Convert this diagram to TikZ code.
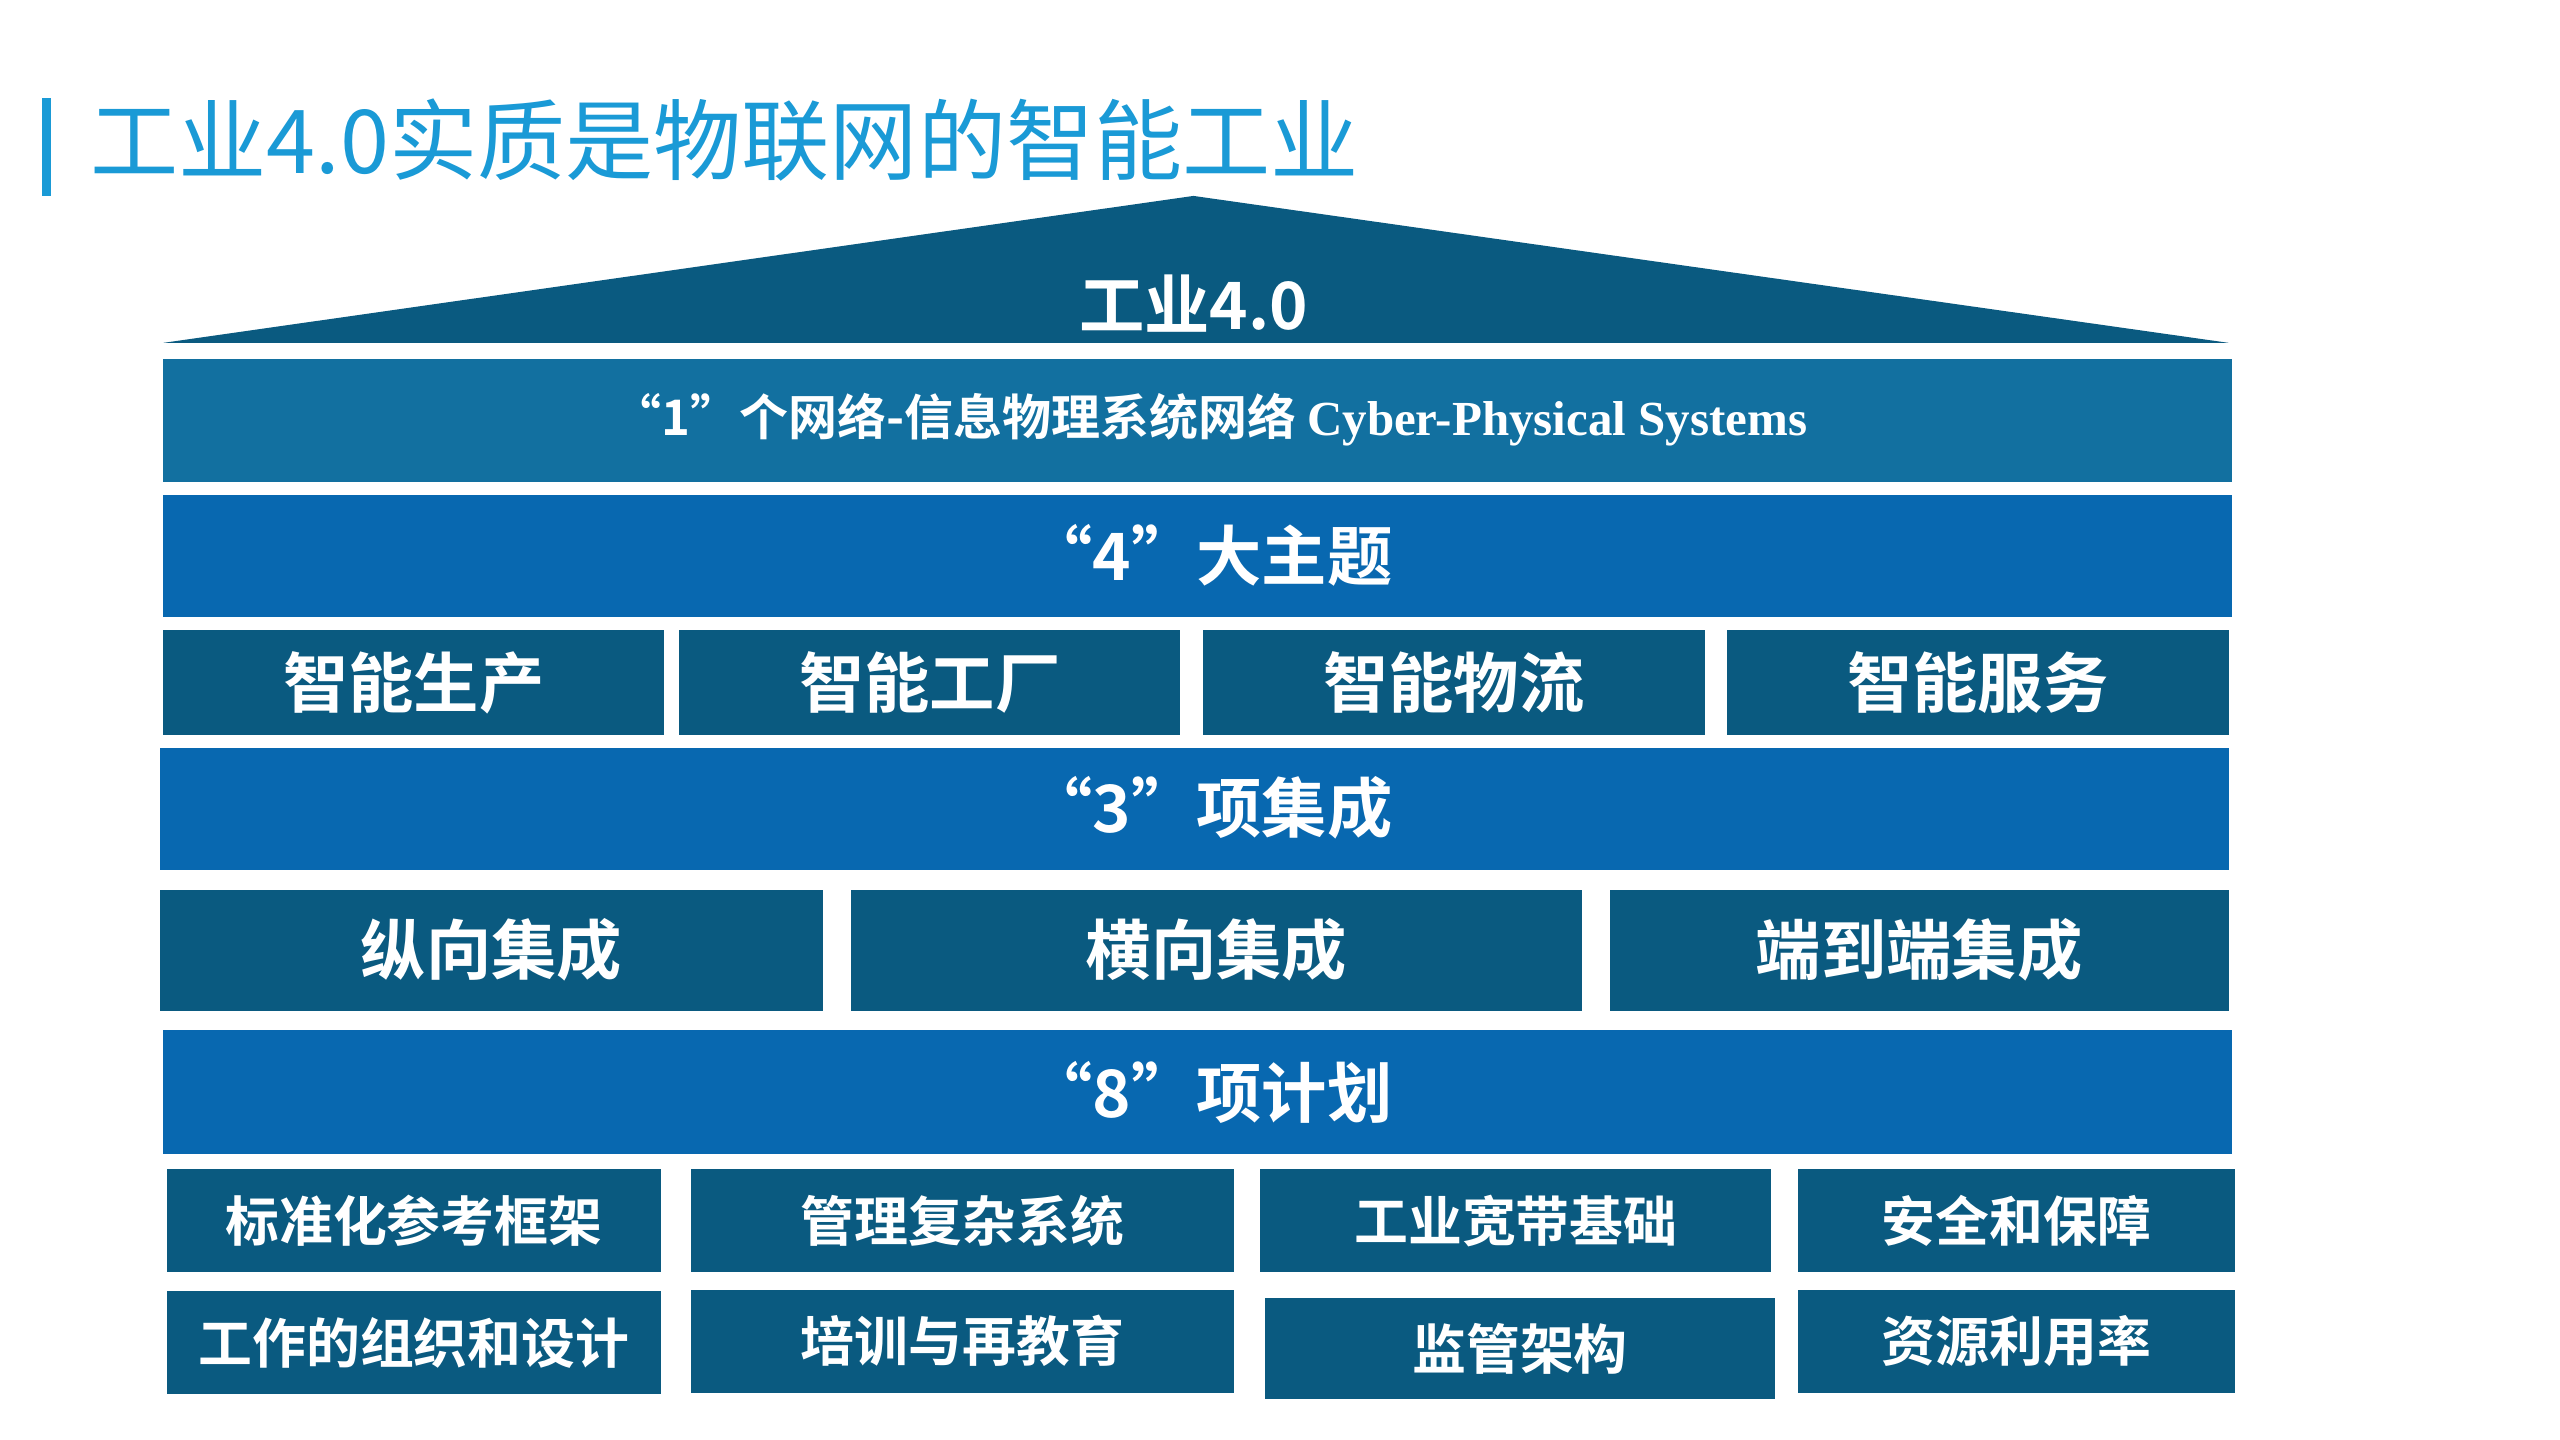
\documentclass[tikz,border=0pt]{standalone}
\usepackage{fontspec}
\setmainfont{Liberation Serif}
\newfontfamily\cjk{Noto Sans CJK SC}
\newfontfamily\cjkb{Noto Sans CJK SC Bold}
\newfontfamily\serb{Liberation Serif Bold}
\definecolor{titlec}{HTML}{1A9AD6}
\definecolor{darkt}{HTML}{0A5A80}
\definecolor{midt}{HTML}{1270A0}
\definecolor{brightb}{HTML}{0868B0}
\begin{document}
\begin{tikzpicture}[x=0.5pt,y=-0.5pt,
  bx/.style={fill=#1,draw=none},
  lbl/.style={text=white,font=\cjkb\fontsize{#1}{#1}\selectfont,anchor=center,inner sep=0pt}]
\useasboundingbox[fill=white] (0,0) rectangle (1568,882);
\fill[titlec] (26,60) rectangle (31,120);
\node[anchor=west,text=titlec,font=\cjk\fontsize{27}{27}\selectfont,inner sep=0pt] (title) at (55,86) {工业4.0实质是物联网的智能工业};
\fill[darkt] (731,120) -- (1365,210) -- (100,210) -- cycle;
\node[lbl=20] (top) at (731,186) {工业4.0};
% row1
\fill[midt] (100,220) rectangle (1367,295);
\node[lbl=15] (r1) at (741,257) {“1”个网络-信息物理系统网络 {\serb Cyber-Physical Systems}};
% row2
\fill[brightb] (100,303) rectangle (1367,378);
\node[lbl=20] (r2) at (741,340) {“4”大主题};
% row3
\foreach \a/\b/\t [count=\i] in {100/407/智能生产,416/723/智能工厂,737/1044/智能物流,1058/1365/智能服务}{
  \fill[darkt] (\a,386) rectangle (\b,450);
  \node[lbl=20] (s\i) at ({(\a+\b)/2},418) {\t};
}
% row4
\fill[brightb] (98,458) rectangle (1365,533);
\node[lbl=20] (r4) at (741,495) {“3”项集成};
% row5
\foreach \a/\b/\t [count=\i] in {98/504/纵向集成,521/969/横向集成,986/1365/端到端集成}{
  \fill[darkt] (\a,545) rectangle (\b,619);
  \node[lbl=20] (i\i) at ({(\a+\b)/2},582) {\t};
}
% row6
\fill[brightb] (100,631) rectangle (1367,707);
\node[lbl=20] (r6) at (741,669) {“8”项计划};
% row7
\foreach \a/\b/\t [count=\i] in {102/405/标准化参考框架,423/756/管理复杂系统,772/1085/工业宽带基础,1101/1369/安全和保障}{
  \fill[darkt] (\a,716) rectangle (\b,779);
  \node[lbl=16.5] (p\i) at ({(\a+\b)/2},748) {\t};
}
% row8
\foreach \a/\b/\c/\d/\t [count=\i] in {102/405/791/854/工作的组织和设计,423/756/790/853/培训与再教育,775/1087/795/857/监管架构,1101/1369/790/853/资源利用率}{
  \fill[darkt] (\a,\c) rectangle (\b,\d);
  \node[lbl=16.5] (q\i) at ({(\a+\b)/2},{(\c+\d)/2}) {\t};
}
\end{tikzpicture}
\end{document}
